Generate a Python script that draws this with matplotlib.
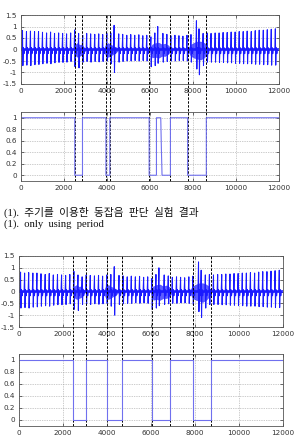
import matplotlib
matplotlib.use("Agg")
import matplotlib.pyplot as plt
import numpy as np

# ---------------- data ----------------
spike_t = [70, 255, 440, 630, 815, 1000, 1190, 1375, 1560, 1750, 1935, 2120, 2310,
           2495, 2680, 2870, 3055, 3240, 3430, 3615, 3800, 3990, 4175, 4330, 4545,
           4730, 4920, 5105, 5290, 5480, 5665, 5850, 6040, 6225, 6360, 6600, 6785,
           6970, 7160, 7345, 7530, 7720, 7905, 8160, 8280, 8470, 8655, 8840, 9030,
           9215, 9400, 9590, 9775, 9960, 10150, 10335, 10520, 10710, 10895, 11080,
           11270, 11455, 11640, 11830]
spike_hi = [0.82, 0.78, 0.80, 0.78, 0.78, 0.75, 0.72, 0.76, 0.70, 0.72, 0.70, 0.68, 0.72,
            0.85, 0.70, 0.62, 0.70, 0.68, 0.66, 0.68, 0.65, 0.70, 0.72, 1.05, 0.68,
            0.66, 0.62, 0.65, 0.62, 0.64, 0.60, 0.62, 0.55, 0.72, 1.00, 0.70, 0.66,
            0.60, 0.62, 0.60, 0.58, 0.62, 0.65, 1.25, 0.90, 0.70, 0.72, 0.70, 0.72,
            0.72, 0.74, 0.74, 0.76, 0.76, 0.78, 0.78, 0.80, 0.78, 0.82, 0.84,
            0.84, 0.86, 0.88, 0.90]
spike_lo = [-0.70, -0.68, -0.70, -0.66, -0.65, -0.62, -0.60, -0.62, -0.58, -0.56, -0.56, -0.55, -0.52,
            -0.75, -0.80, -0.55, -0.52, -0.55, -0.52, -0.54, -0.52, -0.50, -0.62, -1.00, -0.55,
            -0.52, -0.50, -0.50, -0.48, -0.50, -0.48, -0.50, -0.75, -0.70, -0.60, -0.55, -0.52,
            -0.50, -0.50, -0.48, -0.48, -0.50, -0.55, -0.85, -1.10, -0.70, -0.55, -0.55, -0.55,
            -0.56, -0.56, -0.58, -0.58, -0.60, -0.60, -0.62, -0.62, -0.62, -0.64, -0.64,
            -0.66, -0.66, -0.68, -0.68]

# noise bursts (envelopes)
burst_t = [[2440, 2520, 2620, 2720, 2820, 2920, 3000],
           [3850, 3950, 4050, 4150, 4280, 4420, 4520],
           [6000, 6100, 6250, 6400, 6550, 6700, 6850, 6960],
           [7760, 7900, 8050, 8200, 8350, 8500, 8620, 8700]]
burst_hi = [[0.03, 0.22, 0.28, 0.20, 0.22, 0.10, 0.03],
            [0.03, 0.22, 0.28, 0.22, 0.16, 0.10, 0.03],
            [0.05, 0.22, 0.28, 0.30, 0.22, 0.26, 0.18, 0.03],
            [0.05, 0.22, 0.30, 0.35, 0.35, 0.30, 0.22, 0.03]]
burst_lo = [[-0.03, -0.25, -0.32, -0.28, -0.24, -0.12, -0.03],
            [-0.03, -0.28, -0.32, -0.28, -0.20, -0.12, -0.03],
            [-0.05, -0.35, -0.32, -0.36, -0.28, -0.28, -0.20, -0.03],
            [-0.05, -0.28, -0.36, -0.40, -0.44, -0.36, -0.24, -0.03]]
base_t = [0, 12000]
base_hi = [0.05, 0.05]
base_lo = [-0.06, -0.06]

# decision outputs
dec1_t = [0, 2500, 2500, 2860, 2860, 3950, 3950, 4130, 4130, 5960, 5960, 6300, 6300,
          6500, 6530, 6560, 6950, 6950, 7750, 7750, 8620, 8620, 12000]
dec1_v = [1, 1, 0, 0, 1, 1, 0, 0, 1, 1, 0, 0, 1,
          1, 0.45, 0, 0, 1, 1, 0, 0, 1, 1]
dec2_t = [0, 2470, 2470, 3050, 3050, 4020, 4020, 4670, 4670, 6040, 6040, 6880, 6880,
          7900, 7900, 8720, 8720, 12000]
dec2_v = [1, 1, 0, 0, 1, 1, 0, 0, 1, 1, 0, 0, 1,
          1, 0, 0, 1, 1]

marks1 = [2500, 2860, 3950, 4130, 5960, 6950, 7750, 8620]
marks2 = [2470, 3050, 4020, 4670, 6040, 6880, 7900, 8720]

xticks = [0, 2000, 4000, 6000, 8000, 10000, 12000]
sig_yticks = [-1.5, -1, -0.5, 0, 0.5, 1, 1.5]
sig_yticklabels = ["-1.5", "-1", "-0.5", "0", "0.5", "1", "1.5"]
dec_yticks = [0, 0.2, 0.4, 0.6, 0.8, 1]
dec_yticklabels = ["0", "0.2", "0.4", "0.6", "0.8", "1"]

caption_kr = "(1).  주기를  이용한  동잡음  판단  실험  결과"
caption_en = "(1).  only  using  period"

# ---------------- drawing ----------------
W, H = 296, 445
fig = plt.figure(figsize=(W / 100, H / 100), dpi=100)
fig.patch.set_facecolor("white")

def px(l, t, r, b):
    return [l / W, 1 - b / H, (r - l) / W, (b - t) / H]

ax1 = fig.add_axes(px(21, 15, 279, 84))
ax2 = fig.add_axes(px(21, 112, 279, 181))
ax3 = fig.add_axes(px(19, 256, 283, 327))
ax4 = fig.add_axes(px(19, 354, 283, 426))

SIG = "#1a1aff"
STEP = "#7070ee"
TICKFS = 5.2

def style(ax, yt, ytl, ylim):
    ax.set_xlim(0, 12000)
    ax.set_ylim(*ylim)
    ax.set_xticks(xticks)
    ax.set_xticklabels([str(v) for v in xticks])
    ax.set_yticks(yt)
    ax.set_yticklabels(ytl)
    ax.tick_params(direction="in", length=2, width=0.5, labelsize=TICKFS,
                   colors="#333333", pad=3, top=True, right=True)
    for s in ax.spines.values():
        s.set_color("#555555")
        s.set_linewidth(0.6)
    ax.grid(True, linestyle=(0, (1, 1.5)), color="#9a9a9a", linewidth=0.5)
    ax.set_axisbelow(True)
    ax.patch.set_alpha(0)

def draw_signal(ax):
    xs, ys = [], []
    for t, hi, lo in zip(spike_t, spike_hi, spike_lo):
        xs += [t - 25, t, t + 18, t + 40, t + 70, t + 95]
        ys += [0, hi, lo, 0.08, -0.18, 0]
    ax.fill_between(base_t, base_lo, base_hi, color=SIG, lw=0, alpha=0.8)
    for bt, bh, bl in zip(burst_t, burst_hi, burst_lo):
        ax.fill_between(bt, bl, bh, color=SIG, lw=0.3, alpha=0.7)
    ax.plot(xs, ys, color=SIG, lw=0.75)

draw_signal(ax1)
draw_signal(ax3)
ax2.plot(dec1_t, dec1_v, color=STEP, lw=0.8)
ax4.plot(dec2_t, dec2_v, color=STEP, lw=0.8)

style(ax1, sig_yticks, sig_yticklabels, (-1.5, 1.5))
style(ax3, sig_yticks, sig_yticklabels, (-1.5, 1.5))
style(ax2, dec_yticks, dec_yticklabels, (-0.1, 1.1))
style(ax4, dec_yticks, dec_yticklabels, (-0.1, 1.1))

def marks(ax_top, ax_bot, xs):
    p1 = ax_top.get_position()
    p2 = ax_bot.get_position()
    ymin = (p2.y0 - p1.y0) / p1.height
    for x in xs:
        ax_top.axvline(x, ymin=ymin, ymax=1, clip_on=False, color="black",
                       lw=0.7, linestyle=(0, (2.5, 1.5)), zorder=5)

marks(ax1, ax2, marks1)
marks(ax3, ax4, marks2)

fam = ["Liberation Serif", "Noto Sans CJK KR"]
fig.text(4 / W, 1 - 212 / H, caption_kr, va="center", ha="left", fontsize=7.7,
         family=fam, color="#111111")
fig.text(4 / W, 1 - 224 / H, caption_en, va="center", ha="left", fontsize=7.7,
         family=fam, color="#111111")

fig.savefig("out.png", dpi=100, facecolor="white")
